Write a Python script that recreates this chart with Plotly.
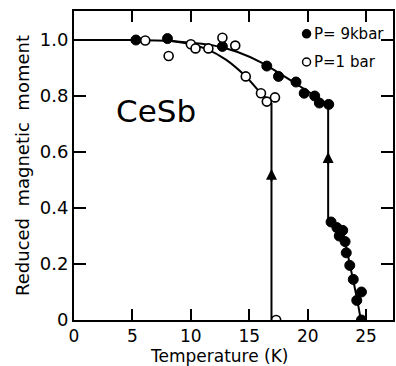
import plotly.graph_objects as go

# ---- data ----
T_9kbar = [5.3, 8.0, 12.7, 16.5, 17.5, 19.0, 19.7, 20.6, 21.0, 21.8,
           22.0, 22.5, 23.0, 22.7, 23.2, 23.3, 23.6, 23.9, 24.6, 24.2, 24.6]
M_9kbar = [1.0, 1.005, 0.977, 0.907, 0.87, 0.85, 0.81, 0.80, 0.775, 0.77,
           0.35, 0.33, 0.32, 0.30, 0.28, 0.24, 0.195, 0.145, 0.10, 0.07, 0.0]

T_1bar = [6.1, 8.1, 10.0, 10.4, 11.5, 12.7, 13.8, 14.7, 16.0, 16.5, 17.2, 17.3]
M_1bar = [0.998, 0.943, 0.985, 0.97, 0.97, 1.008, 0.98, 0.87, 0.81, 0.78, 0.795, 0.0]

# guide curves (drawn by hand in the original)
curve9_upper_T = [0, 4, 8, 10, 12, 14, 16, 18, 20, 21.75]
curve9_upper_M = [1.0, 1.0, 0.997, 0.99, 0.98, 0.957, 0.92, 0.87, 0.817, 0.77]
curve9_drop_T = [21.75, 21.75]
curve9_drop_M = [0.77, 0.36]
curve9_lower_T = [21.75, 22.3, 23.0, 23.3, 23.6, 23.9, 24.2, 24.55]
curve9_lower_M = [0.36, 0.34, 0.31, 0.26, 0.20, 0.14, 0.08, 0.0]

curve1_T = [8.0, 10.0, 11.5, 13.0, 14.7, 16.0, 16.9]
curve1_M = [0.998, 0.985, 0.965, 0.93, 0.87, 0.81, 0.775]
curve1_drop_T = [16.9, 16.9]
curve1_drop_M = [0.775, 0.0]

arrow_T = [16.9, 21.75]
arrow_M = [0.54, 0.60]

x_ticks = [0, 5, 10, 15, 20, 25]
y_ticks = [0, 0.2, 0.4, 0.6, 0.8, 1.0]
y_ticktext = ["0", "0.2", "0.4", "0.6", "0.8", "1.0"]

legend_labels = ["P= 9kbar", "P=1 bar"]

FONT = "DejaVu Sans"
LW = 2

fig = go.Figure()
line_style = dict(color="black", width=LW)
fig.add_trace(go.Scatter(x=curve9_upper_T, y=curve9_upper_M, mode="lines",
                         line=dict(shape="spline", **line_style), hoverinfo="skip"))
fig.add_trace(go.Scatter(x=curve9_drop_T, y=curve9_drop_M, mode="lines",
                         line=line_style, hoverinfo="skip"))
fig.add_trace(go.Scatter(x=curve9_lower_T, y=curve9_lower_M, mode="lines",
                         line=dict(shape="spline", **line_style), hoverinfo="skip"))
fig.add_trace(go.Scatter(x=curve1_T, y=curve1_M, mode="lines",
                         line=dict(shape="spline", **line_style), hoverinfo="skip"))
fig.add_trace(go.Scatter(x=curve1_drop_T, y=curve1_drop_M, mode="lines",
                         line=line_style, hoverinfo="skip"))

fig.add_trace(go.Scatter(x=T_9kbar, y=M_9kbar, mode="markers", name=legend_labels[0],
                         marker=dict(symbol="circle", size=10, color="black",
                                     line=dict(color="black", width=1))))
fig.add_trace(go.Scatter(x=T_1bar, y=M_1bar, mode="markers", name=legend_labels[1],
                         marker=dict(symbol="circle", size=9, color="white",
                                     line=dict(color="black", width=1.6))))

for t, m in zip(arrow_T, arrow_M):
    fig.add_annotation(x=t, y=m, ax=t, ay=m - 0.05, xref="x", yref="y",
                       axref="x", ayref="y", showarrow=True, arrowhead=2,
                       arrowsize=1.1, arrowwidth=2, arrowcolor="black", text="")

fig.add_annotation(x=7.0, y=0.746, xref="x", yref="y", text="CeSb",
                   showarrow=False, font=dict(family=FONT, size=31, color="black"))

# hand-made legend
legend_y = [0.926, 0.835]
legend_fill = ["black", "white"]
for lab, ly, fc in zip(legend_labels, legend_y, legend_fill):
    fig.add_shape(type="circle", xref="paper", yref="paper",
                  xsizemode="pixel", ysizemode="pixel",
                  xanchor=0.729, yanchor=ly, x0=-4, x1=4, y0=-4, y1=4,
                  fillcolor=fc, line=dict(color="black", width=1.5))
    fig.add_annotation(x=0.745, y=ly, xref="paper", yref="paper",
                       xanchor="left", yanchor="middle", text=lab,
                       showarrow=False,
                       font=dict(family=FONT, size=15, color="black"))

# x-axis title placed as text below the tick labels
fig.add_annotation(x=0.455, y=-0.118, xref="paper", yref="paper",
                   xanchor="center", yanchor="middle", text="Temperature (K)",
                   showarrow=False, font=dict(family=FONT, size=17, color="black"))

fig.update_xaxes(range=[0, 27.3], tickvals=x_ticks, ticks="inside", ticklen=11,
                 tickwidth=1.5, tickcolor="black", showline=True, linecolor="black",
                 linewidth=2, mirror="ticks", showgrid=False, zeroline=False,
                 tickfont=dict(family=FONT, size=17, color="black"))
fig.update_yaxes(range=[0, 1.1036], tickvals=y_ticks, ticktext=y_ticktext,
                 ticks="inside", ticklen=12, tickwidth=1.5, tickcolor="black",
                 showline=True, linecolor="black", linewidth=2, mirror="ticks",
                 showgrid=False, zeroline=False,
                 tickfont=dict(family=FONT, size=18, color="black"),
                 title=dict(text="Reduced  magnetic  moment", standoff=5,
                            font=dict(family=FONT, size=18, color="black")))

fig.update_layout(width=396, height=366, showlegend=False,
                  margin=dict(l=74, r=1, t=11, b=46),
                  paper_bgcolor="white", plot_bgcolor="white")

fig.write_html("out.html")
